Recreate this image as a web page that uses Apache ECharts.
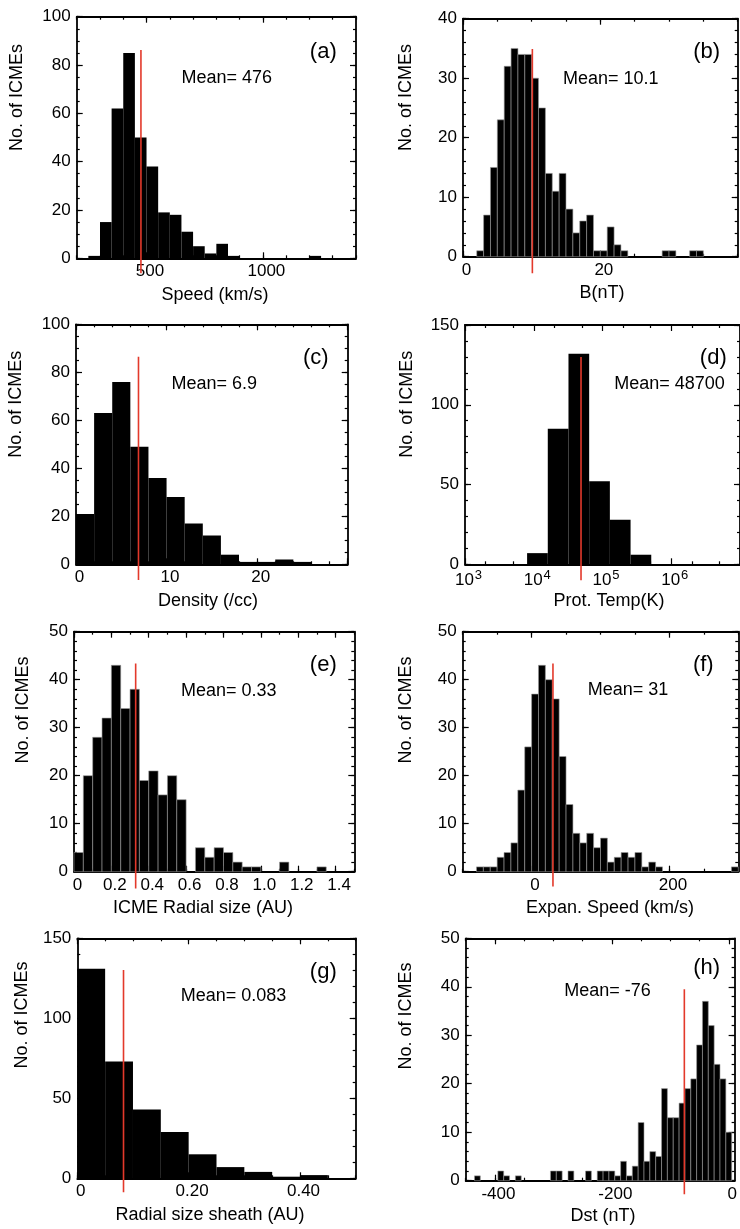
<!DOCTYPE html>
<html><head><meta charset="utf-8">
<script src="https://cdn.jsdelivr.net/npm/echarts@6/dist/echarts.min.js"></script>
<style>html,body{margin:0;padding:0;background:#fff}#c{width:740px;height:1229px}</style>
</head><body><div id="c"></div>
<script>
// ---------- DATA ----------
// (a) Speed (km/s), bin width 50
const speedLo = [250,300,350,400,450,500,550,600,650,700,750,800,850,1200];
const speedCounts = [1,15,62,85,50,38,19,18,11,5,2,6,1,1];
const speedTicks = [500,1000];
const speedMean = 476;
// (b) B (nT), bin width 1
const bLo = [2,3,4,5,6,7,8,9,10,11,12,13,14,15,16,17,18,19,20,21,22,23,29,30,33,34];
const bCounts = [1,7,15,23,32,35,34,34,30,25,14,11,14,8,4,6,7,1,1,5,2,1,1,1,1,1];
const bTicks = [0,20];
const bMean = 10.1;
// (c) Density (/cc), bin width 2
const densLo = [0,2,4,6,8,10,12,14,16,18,20,22,24];
const densCounts = [21,63,76,49,36,28,17,12,4,1,1,2,1];
const densTicks = [0,10,20];
const densMean = 6.9;
// (d) Proton temperature (K), log bins
const tempEdges = [8000,16000,32000,64000,128000,256000,512000];
const tempCounts = [7,85,132,52,28,6];
const tempTicks = [1e3,1e4,1e5,1e6];
const tempMean = 48700;
// (e) ICME radial size (AU), bin width 0.05
const sizeLo = [0,0.05,0.10,0.15,0.20,0.25,0.30,0.35,0.40,0.45,0.50,0.55,0.65,0.70,0.75,0.80,0.85,0.90,0.95,1.10,1.30];
const sizeCounts = [4,20,28,32,43,34,38,19,21,16,20,15,5,3,5,4,2,1,1,2,1];
const sizeTicks = [0,0.2,0.4,0.6,0.8,1.0,1.2,1.4];
const sizeMean = 0.33;
// (f) Expansion speed (km/s), bin width 10
const expLo = [-80,-70,-60,-50,-40,-30,-20,-10,0,10,20,30,40,50,60,70,80,90,100,110,120,130,140,150,160,170,180,290];
const expCounts = [1,1,1,3,4,6,17,26,37,43,40,36,24,14,8,6,8,5,7,2,3,4,3,4,1,2,1,1];
const expTicks = [0,200];
const expMean = 31;
// (g) Radial size sheath (AU), bin width 0.05
const sheathLo = [0,0.05,0.10,0.15,0.20,0.25,0.30,0.35,0.40];
const sheathCounts = [131,73,43,29,15,7,4,1,2];
const sheathTicks = [0,0.2,0.4];
const sheathMean = 0.083;
// (h) Dst (nT), bins of 10 centred on the values below
const dstCentre = [-430,-390,-380,-360,-300,-290,-270,-240,-220,-210,-200,-190,-180,-170,-160,-150,-140,-130,-120,-110,-100,-90,-80,-70,-60,-50,-40,-30,-20,-10,0];
const dstCounts = [1,2,1,1,2,2,2,2,2,2,2,1,4,1,3,12,4,6,5,19,13,13,16,19,21,28,37,32,24,21,10];
const dstTicks = [-400,-200,0];
const dstMean = -76;

// ---------- LAYOUT / STYLE ----------
const FONT = '"Liberation Sans", Arial, Helvetica, sans-serif';
const RED = '#e3392b';
function steps(min, max, step) {
  const out = []; const start = Math.ceil(min / step - 1e-9) * step;
  for (let v = start; v <= max + 1e-9; v += step) out.push(+v.toFixed(6));
  return out;
}
function edgesFromLo(lo, w) { return lo.map(l => [l, +(l + w).toFixed(6)]); }
const fmtInt = v => String(v);
const panels = [
  { bins: edgesFromLo(speedLo, 50), counts: speedCounts, mean: speedMean, span: [-6.2, 86.2], sep: false,
    grid: {left: 76.7, top: 16.7, width: 279.3, height: 241.6},
    x: {min: 200, max: 1400, labels: speedTicks, major: speedTicks, minor: steps(200, 1400, 100), fmt: fmtInt},
    y: {max: 100, step: 20, minor: 5},
    tag: '(a)', tagPos: [323.3, 51.7], meanPos: [226.7, 77.7], xTitle: 'Speed (km/s)', xTitlePos: [215, 295], yTitlePos: [16.7, 97.5] },
  { bins: edgesFromLo(bLo, 1), counts: bCounts, mean: bMean, span: [-2.8, 34.9], sep: true,
    grid: {left: 463, top: 18.7, width: 274.7, height: 238},
    x: {min: 0, max: 40, labels: bTicks, major: bTicks, minor: steps(0, 40, 5), fmt: fmtInt},
    y: {max: 40, step: 10, minor: 2},
    tag: '(b)', tagPos: [706.7, 51.7], meanPos: [610.8, 79.3], xTitle: 'B(nT)', xTitlePos: [602, 293.4], yTitlePos: [405.8, 97.5] },
  { bins: edgesFromLo(densLo, 2), counts: densCounts, mean: densMean, span: [-6.5, 86.5], sep: false,
    grid: {left: 76, top: 324.3, width: 271.7, height: 240},
    x: {min: 0, max: 30, labels: densTicks, major: [0,10,20,30], minor: steps(0, 30, 2), fmt: fmtInt},
    y: {max: 100, step: 20, minor: 5},
    tag: '(c)', tagPos: [315.8, 357.7], meanPos: [214.3, 384], xTitle: 'Density (/cc)', xTitlePos: [208, 601], yTitlePos: [15.8, 404.2] },
  { bins: tempEdges.slice(0, -1).map((e, i) => [e, tempEdges[i + 1]]), counts: tempCounts, mean: tempMean, span: [-10, 130], sep: false,
    grid: {left: 465, top: 325, width: 279.5, height: 239.3},
    x: {log: true, min: 1e3, max: 1e7, labels: tempTicks, major: [1e3,1e4,1e5,1e6,1e7],
        minor: [2e3,5e3,2e4,5e4,2e5,5e5,2e6,5e6],
        fmt: v => '{b|10}{s|' + Math.round(Math.log10(v)) + '}'},
    y: {max: 150, step: 50, minor: 10},
    tag: '(d)', tagPos: [713.3, 358.3], meanPos: [669.5, 384], xTitle: 'Prot. Temp(K)', xTitlePos: [609, 601.5], yTitlePos: [407.5, 404.2] },
  { bins: edgesFromLo(sizeLo, 0.05), counts: sizeCounts, mean: sizeMean, span: [-3.5, 43.4], sep: true,
    grid: {left: 74, top: 631.7, width: 280.3, height: 240},
    x: {min: 0, max: 1.5, labels: sizeTicks, major: sizeTicks, minor: steps(0, 1.5, 0.1), fmt: v => v === 0 ? '0' : v.toFixed(1)},
    y: {max: 50, step: 10, minor: 2},
    tag: '(e)', tagPos: [323.3, 665], meanPos: [228.8, 690.7], xTitle: 'ICME Radial size (AU)', xTitlePos: [203, 908.4], yTitlePos: [23.3, 710] },
  { bins: edgesFromLo(expLo, 10), counts: expCounts, mean: expMean, span: [-3.1, 43.4], sep: true,
    grid: {left: 462.7, top: 631.7, width: 275.6, height: 240},
    x: {min: -100, max: 300, labels: expTicks, major: expTicks, minor: steps(-100, 300, 50), fmt: fmtInt},
    y: {max: 50, step: 10, minor: 2},
    tag: '(f)', tagPos: [703.3, 665], meanPos: [628, 690], xTitle: 'Expan. Speed (km/s)', xTitlePos: [610, 908.4], yTitlePos: [405.8, 710] },
  { bins: edgesFromLo(sheathLo, 0.05), counts: sheathCounts, mean: sheathMean, span: [-8.75, 130.2], sep: false,
    grid: {left: 77.3, top: 938.3, width: 278.4, height: 240},
    x: {min: 0, max: 0.5, labels: sheathTicks, major: sheathTicks, minor: steps(0, 0.5, 0.05), fmt: v => v === 0 ? '0' : v.toFixed(2)},
    y: {max: 150, step: 50, minor: 10},
    tag: '(g)', tagPos: [323.3, 971.7], meanPos: [233.5, 996], xTitle: 'Radial size sheath (AU)', xTitlePos: [210, 1215], yTitlePos: [21.7, 1015] },
  { bins: dstCentre.map(c => [c - 5, c + 5]), counts: dstCounts, mean: dstMean, span: [-2.8, 39.5], sep: true,
    grid: {left: 465.7, top: 938.3, width: 272.6, height: 242.4},
    x: {min: -450, max: 10, labels: dstTicks, major: dstTicks, minor: steps(-450, 10, 50), fmt: fmtInt},
    y: {max: 50, step: 10, minor: 2},
    tag: '(h)', tagPos: [706.7, 968.3], meanPos: [607.5, 991], xTitle: 'Dst (nT)', xTitlePos: [603, 1216], yTitlePos: [405.8, 1016] }
];

const grids = [], xAxes = [], yAxes = [], series = [], graphics = [];
function axis(gi, ax, pos, ticks, len, mainLine, labelCfg) {
  const a = {
    gridIndex: gi, position: pos, type: ax.log ? 'log' : 'value',
    min: ax.min, max: ax.max, silent: true,
    splitLine: {show: false}, minorTick: {show: false},
    axisLine: {show: mainLine, onZero: false, lineStyle: {color: '#000', width: 1.8}},
    axisTick: {show: true, inside: true, length: len, customValues: ticks, lineStyle: {color: '#000', width: 1.2}},
    axisLabel: {show: false}
  };
  if (ax.log) a.logBase = 10;
  if (labelCfg) a.axisLabel = labelCfg;
  return a;
}
panels.forEach((p, gi) => {
  grids.push(Object.assign({containLabel: false}, p.grid));
  const xb = xAxes.length, yb = yAxes.length;
  const yAx = {min: 0, max: p.y.max};
  const yMajor = steps(0, p.y.max, p.y.step), yMinor = steps(0, p.y.max, p.y.minor);
  xAxes.push(axis(gi, p.x, 'bottom', p.x.major, 6, true, {
    show: true, customValues: p.x.labels, formatter: p.x.fmt, margin: 5,
    fontSize: 17, fontFamily: FONT, color: '#000', padding: [0, 0, 0, 7],
    rich: {b: {fontSize: 17, fontFamily: FONT, color: '#000'},
           s: {fontSize: 13, fontFamily: FONT, color: '#000', padding: [0, 0, 9, 1]}}
  }));
  xAxes.push(axis(gi, p.x, 'bottom', p.x.minor, 3, false));
  xAxes.push(axis(gi, p.x, 'top', p.x.major, 6, true));
  xAxes.push(axis(gi, p.x, 'top', p.x.minor, 3, false));
  yAxes.push(axis(gi, yAx, 'left', yMajor, 6, true, {
    show: true, customValues: yMajor, margin: 6, fontSize: 17, fontFamily: FONT, color: '#000'
  }));
  yAxes.push(axis(gi, yAx, 'left', yMinor, 3, false));
  yAxes.push(axis(gi, yAx, 'right', yMajor, 6, true));
  yAxes.push(axis(gi, yAx, 'right', yMinor, 3, false));

  const data = p.bins.map((b, i) => [b[0], b[1], p.counts[i]]);
  series.push({
    type: 'custom', xAxisIndex: xb, yAxisIndex: yb, data: data, silent: true, z: 2,
    encode: {x: [0, 1], y: 2},
    renderItem: (params, api) => {
      const a = api.coord([api.value(0), api.value(2)]);
      const b = api.coord([api.value(1), 0]);
      return {type: 'rect', shape: {x: a[0], y: a[1], width: b[0] - a[0], height: b[1] - a[1]},
              style: {fill: '#000', stroke: p.sep ? '#9a9a9a' : '#000', lineWidth: p.sep ? 0.6 : 0}};
    }
  });
  series.push({
    type: 'line', xAxisIndex: xb, yAxisIndex: yb, clip: false, symbol: 'none', silent: true, z: 5,
    data: [[p.mean, p.span[0]], [p.mean, p.span[1]]],
    lineStyle: {color: RED, width: 1.6}
  });
  const txt = (s, pos, size, rot) => graphics.push({
    type: 'text', x: pos[0], y: pos[1], rotation: rot || 0, silent: true,
    style: {text: s, font: size + 'px ' + FONT, fill: '#000', align: 'center', verticalAlign: 'middle'}
  });
  txt('Mean= ' + p.mean, p.meanPos, 18);
  txt(p.tag, p.tagPos, 22);
  txt(p.xTitle, p.xTitlePos, 18);
  txt('No. of ICMEs', p.yTitlePos, 18, Math.PI / 2);
});

const chart = echarts.init(document.getElementById('c'), null, {renderer: 'canvas'});
chart.setOption({
  animation: false, backgroundColor: '#fff',
  textStyle: {fontFamily: FONT},
  grid: grids, xAxis: xAxes, yAxis: yAxes, series: series, graphic: graphics
});
</script></body></html>
